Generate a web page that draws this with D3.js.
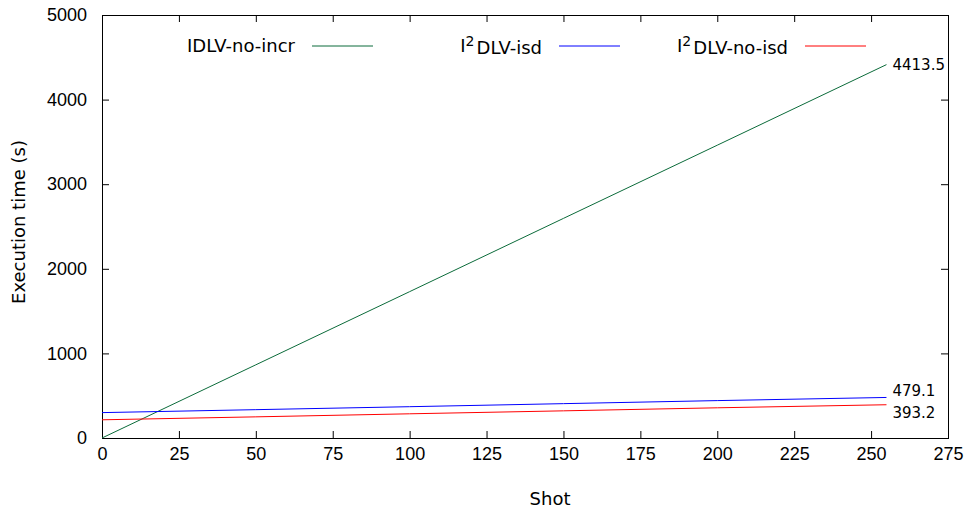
<!DOCTYPE html>
<html>
<head>
<meta charset="utf-8">
<script src="https://cdn.jsdelivr.net/npm/d3@7"></script>
<style>
    body { margin: 0; background: #fff; }
    svg { display: block; font-family: 'DejaVu Sans', sans-serif; }
    .tick line { stroke: #000; }
</style>
</head>
<body>
<div id="chart"></div>
<script>
'use strict';

// Values.
var shots      = [0, 50, 100, 150, 200, 255],
    noIncr     = [0, 865, 1730, 2596, 3461, 4413.5],
    isd        = [300, 335, 370, 406, 442, 479.1],
    noIsd      = [215, 250, 286, 321, 357, 393.2],
    xTicks     = [0, 25, 50, 75, 100, 125, 150, 175, 200, 225, 250, 275],
    yTicks     = [0, 1000, 2000, 3000, 4000, 5000];

var series = [
    {name: 'IDLV-no-incr', sup: false, color: '#0b6b3a', values: noIncr, end: '4413.5', endDy: 0},
    {name: 'DLV-isd',      sup: true,  color: '#0000ff', values: isd,    end: '479.1',  endDy: -7},
    {name: 'DLV-no-isd',   sup: true,  color: '#ff0000', values: noIsd,  end: '393.2',  endDy: 8}
];

var width  = 969,
    height = 514,
    margin = {top: 15, right: 21, bottom: 76, left: 102},
    w      = width - margin.left - margin.right,
    h      = height - margin.top - margin.bottom;

var svg = d3.select('#chart').append('svg')
    .attr('width', width)
    .attr('height', height);

var g = svg.append('g')
    .attr('transform', 'translate(' + margin.left + ',' + margin.top + ')');

var x = d3.scaleLinear().domain([0, 275]).range([0, w]),
    y = d3.scaleLinear().domain([0, 5000]).range([h, 0]);

// Axes with inward ticks on all four sides.
g.append('g')
    .attr('transform', 'translate(0,' + h + ')')
    .call(d3.axisBottom(x).tickValues(xTicks).tickSize(-7).tickPadding(9).tickFormat(d3.format('d')))
    .call(function (a) { a.select('.domain').remove(); })
    .selectAll('text').style('font-size', '18px').attr('fill', '#000');

g.append('g')
    .call(d3.axisTop(x).tickValues(xTicks).tickSize(-7).tickFormat(''))
    .call(function (a) { a.select('.domain').remove(); });

g.append('g')
    .call(d3.axisLeft(y).tickValues(yTicks).tickSize(-7).tickPadding(15).tickFormat(d3.format('d')))
    .call(function (a) { a.select('.domain').remove(); })
    .selectAll('text').style('font-size', '18px').attr('fill', '#000');

g.append('g')
    .attr('transform', 'translate(' + w + ',0)')
    .call(d3.axisRight(y).tickValues(yTicks).tickSize(-7).tickFormat(''))
    .call(function (a) { a.select('.domain').remove(); });

g.append('rect')
    .attr('width', w)
    .attr('height', h)
    .attr('fill', 'none')
    .attr('stroke', '#000')
    .attr('shape-rendering', 'crispEdges');

// Lines.
var line = d3.line()
    .x(function (d, i) { return x(shots[i]); })
    .y(function (d) { return y(d); });

g.selectAll('.series')
    .data(series)
    .enter().append('path')
    .attr('class', 'series')
    .attr('d', function (d) { return line(d.values); })
    .attr('fill', 'none')
    .attr('stroke', function (d) { return d.color; })
    .attr('stroke-width', 1);

// End labels.
g.selectAll('.endlabel')
    .data(series)
    .enter().append('text')
    .attr('class', 'endlabel')
    .attr('x', x(shots[shots.length - 1]) + 6)
    .attr('y', function (d) { return y(d.values[d.values.length - 1]) + d.endDy; })
    .attr('dy', '0.35em')
    .style('font-size', '15px')
    .text(function (d) { return d.end; });

// Legend.
var legendX = [295, 542, 788];

var legend = svg.selectAll('.legend')
    .data(series)
    .enter().append('g')
    .attr('class', 'legend')
    .attr('transform', function (d, i) { return 'translate(' + legendX[i] + ',46)'; });

legend.append('text')
    .attr('text-anchor', 'end')
    .attr('dy', '0.35em')
    .style('font-size', '18px')
    .each(function (d) {
        var t = d3.select(this);
        if (d.sup) {
            t.append('tspan').text('I');
            t.append('tspan').attr('dy', '-0.45em').style('font-size', '14px').text('2');
            t.append('tspan').attr('dy', '0.45em').attr('dx', '2').text(d.name);
        } else {
            t.text(d.name);
        }
    });

legend.append('line')
    .attr('x1', 17)
    .attr('x2', 78)
    .attr('stroke', function (d) { return d.color; })
    .attr('stroke-width', 1);

// Axis titles.
svg.append('text')
    .attr('x', 550)
    .attr('y', 505)
    .attr('text-anchor', 'middle')
    .style('font-size', '18px')
    .text('Shot');

svg.append('text')
    .attr('transform', 'translate(25,222) rotate(-90)')
    .attr('text-anchor', 'middle')
    .style('font-size', '18px')
    .text('Execution time (s)');
</script>
</body>
</html>
